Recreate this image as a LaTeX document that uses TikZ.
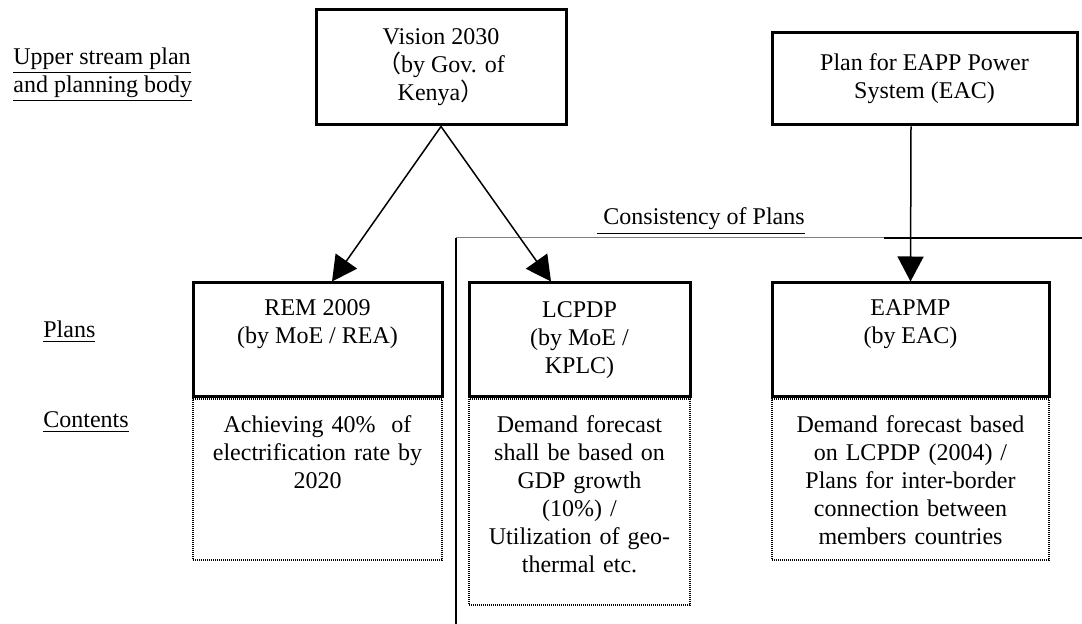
\documentclass[tikz,border=0pt]{standalone}
\usepackage{fontspec}
\setmainfont{Liberation Serif}
\newfontfamily\cjk{Noto Sans CJK JP}
\usepackage{tikz}
\usetikzlibrary{arrows.meta, positioning}

\begin{document}
\begin{tikzpicture}[x=0.5pt, y=-0.5pt,
    font=\fontsize{12}{14}\selectfont,
    >={Triangle[length=12.5pt, width=13pt]},
    planbox/.style={draw, line width=1.5pt, align=center, minimum height=57pt, inner sep=0pt},
    textbox/.style={draw, dash pattern=on 0.5pt off 0.5pt, line width=0.6pt, anchor=north, align=center,
        inner xsep=4pt, inner ysep=7.5pt, text height=9pt},
    rowlabel/.style={anchor=base west, inner sep=0pt},
    link/.style={->, line width=0.75pt}]
    \useasboundingbox (0,0) rectangle (1082,624);

    % row labels on the left
    \node[anchor=west, align=left, inner sep=0pt] (upper) at (13,75)
        {\underline{Upper stream plan}\\\underline{and planning body}};
    \node[rowlabel] (plans) at (43,338) {\underline{Plans}};
    \node[rowlabel] (contents) at (43,428) {\underline{Contents}};

    % upper stream plans
    \node[planbox, minimum width=125pt, minimum height=57.5pt] (vision) at (441,67.5)
        {Vision 2030\\{\cjk （}by Gov. of\\Kenya{\cjk ）}};
    \node[planbox, minimum width=152.5pt, minimum height=46pt] (eapp) at (924.5,79)
        {Plan for EAPP Power\\System (EAC)};

    % plans
    \node[planbox, minimum width=124.5pt] (rem) at (317.5,340)
        {REM 2009\\(by MoE / REA)\\\strut};
    \node[planbox, minimum width=110.5pt] (lcpdp) at (579.5,340)
        {LCPDP\\(by MoE /\\KPLC)};
    \node[planbox, minimum width=138.5pt] (eapmp) at (910.5,340)
        {EAPMP\\(by EAC)\\\strut};

    % contents under each plan
    \node[textbox, text width=116.5pt, text depth=56.5pt] (remtxt) at (rem.south)
        {Achieving 40\%\ \ of\\electrification rate by\\2020};
    \node[textbox, text width=102.5pt, text depth=79pt] (lcpdptxt) at (lcpdp.south)
        {Demand forecast\\shall be based on\\GDP growth\\(10\%) /\\Utilization of geo-\\thermal etc.};
    \node[textbox, text width=130.5pt, text depth=56.5pt] (eapmptxt) at (eapmp.south)
        {Demand forecast based\\on LCPDP (2004) /\\Plans for inter-border\\connection between\\members countries};

    % consistency of plans
    \coordinate (cons corner) at (456,238);
    \coordinate (cons bottom) at (456,624);
    \coordinate (cons mid) at (884,238);
    \coordinate (cons right) at (1082,238);
    \draw[gray, line width=0.5pt] (cons corner) -- (cons right);
    \draw[line width=0.6pt] (cons bottom) -- (cons corner);
    \draw[line width=0.6pt] (cons mid) -- (cons right);
    \node[rowlabel] (conslabel) at (597,225) {\underline{\ Consistency of Plans}};

    % arrows
    \draw[link] (vision.south) -- ([xshift=7.25pt]rem.north);
    \draw[link] (vision.south) -- ([xshift=-14.25pt]lcpdp.north);
    \draw[link] ([xshift=-6.75pt]eapp.south) -- (eapmp.north);
\end{tikzpicture}
\end{document}
